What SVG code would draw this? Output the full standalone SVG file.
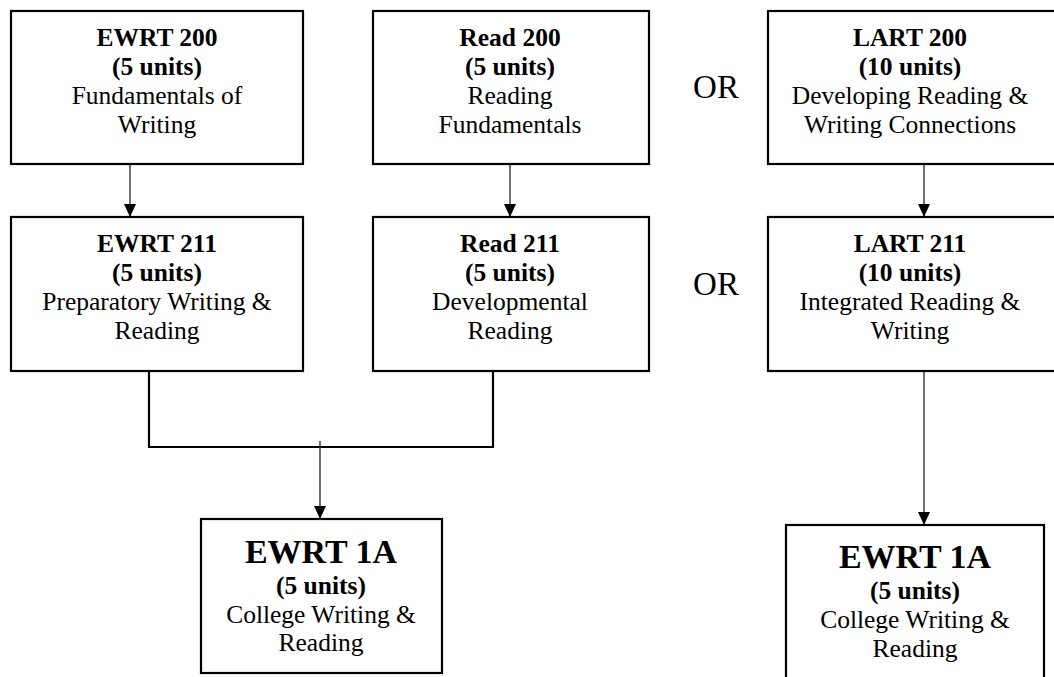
<svg xmlns="http://www.w3.org/2000/svg" width="1054" height="677" viewBox="0 0 1054 677">
<style>
  .box { fill: #fff; stroke: #000; stroke-width: 2.2; }
  text { font-family: "Liberation Serif", "Times New Roman", serif; fill: #000; text-anchor: middle; }
  .t { font-size: 25.5px; font-weight: bold; }
  .u { font-size: 25.5px; font-weight: bold; }
  .d { font-size: 25.5px; }
  .big { font-size: 34px; font-weight: bold; }
  .or { font-size: 33px; }
  .arr { stroke: #333; stroke-width: 1.4; fill: none; marker-end: url(#ah); }
  .merge { stroke: #000; stroke-width: 2.2; fill: none; }
</style>
<defs>
  <marker id="ah" markerUnits="userSpaceOnUse" markerWidth="14" markerHeight="14" viewBox="0 0 14 14" refX="7" refY="13" orient="0">
    <path d="M1,0 L13,0 L7,13 Z" fill="#000"/>
  </marker>
</defs>
<rect width="1054" height="677" fill="#fff"/>

<g id="connectors">
  <line class="arr" x1="130" y1="164" x2="130" y2="217"/>
  <line class="arr" x1="510" y1="164" x2="510" y2="217"/>
  <line class="arr" x1="924" y1="164" x2="924" y2="217"/>
  <polyline class="merge" points="149,371 149,447 493,447 493,371"/>
  <line class="arr" x1="320" y1="441" x2="320" y2="519"/>
  <line class="arr" x1="924" y1="371" x2="924" y2="525"/>
</g>

<g id="ewrt200">
  <rect class="box" x="11" y="11" width="292" height="153"/>
  <text class="t" x="157" y="46">EWRT 200</text>
  <text class="u" x="157" y="75">(5 units)</text>
  <text class="d" x="157" y="104">Fundamentals of</text>
  <text class="d" x="157" y="133">Writing</text>
</g>
<g id="read200">
  <rect class="box" x="373" y="11" width="276" height="153"/>
  <text class="t" x="510" y="46">Read 200</text>
  <text class="u" x="510" y="75">(5 units)</text>
  <text class="d" x="510" y="104">Reading</text>
  <text class="d" x="510" y="133">Fundamentals</text>
</g>
<g id="or1"><text class="or" x="716" y="98">OR</text></g>
<g id="lart200">
  <rect class="box" x="768" y="11" width="300" height="153"/>
  <text class="t" x="910" y="46">LART 200</text>
  <text class="u" x="910" y="75">(10 units)</text>
  <text class="d" x="910" y="104">Developing Reading &amp;</text>
  <text class="d" x="910" y="133">Writing Connections</text>
</g>

<g id="ewrt211">
  <rect class="box" x="11" y="217" width="292" height="154"/>
  <text class="t" x="157" y="252">EWRT 211</text>
  <text class="u" x="157" y="281">(5 units)</text>
  <text class="d" x="157" y="310">Preparatory Writing &amp;</text>
  <text class="d" x="157" y="339">Reading</text>
</g>
<g id="read211">
  <rect class="box" x="373" y="217" width="276" height="154"/>
  <text class="t" x="510" y="252">Read 211</text>
  <text class="u" x="510" y="281">(5 units)</text>
  <text class="d" x="510" y="310">Developmental</text>
  <text class="d" x="510" y="339">Reading</text>
</g>
<g id="or2"><text class="or" x="716" y="295">OR</text></g>
<g id="lart211">
  <rect class="box" x="768" y="217" width="300" height="154"/>
  <text class="t" x="910" y="252">LART 211</text>
  <text class="u" x="910" y="281">(10 units)</text>
  <text class="d" x="910" y="310">Integrated Reading &amp;</text>
  <text class="d" x="910" y="339">Writing</text>
</g>

<g id="ewrt1a-left">
  <rect class="box" x="201" y="519" width="241" height="154"/>
  <text class="big" x="321" y="563">EWRT 1A</text>
  <text class="u" x="321" y="594">(5 units)</text>
  <text class="d" x="321" y="623">College Writing &amp;</text>
  <text class="d" x="321" y="651">Reading</text>
</g>
<g id="ewrt1a-right">
  <rect class="box" x="786" y="525" width="258" height="170"/>
  <text class="big" x="915" y="568">EWRT 1A</text>
  <text class="u" x="915" y="599">(5 units)</text>
  <text class="d" x="915" y="628">College Writing &amp;</text>
  <text class="d" x="915" y="657">Reading</text>
</g>
</svg>
